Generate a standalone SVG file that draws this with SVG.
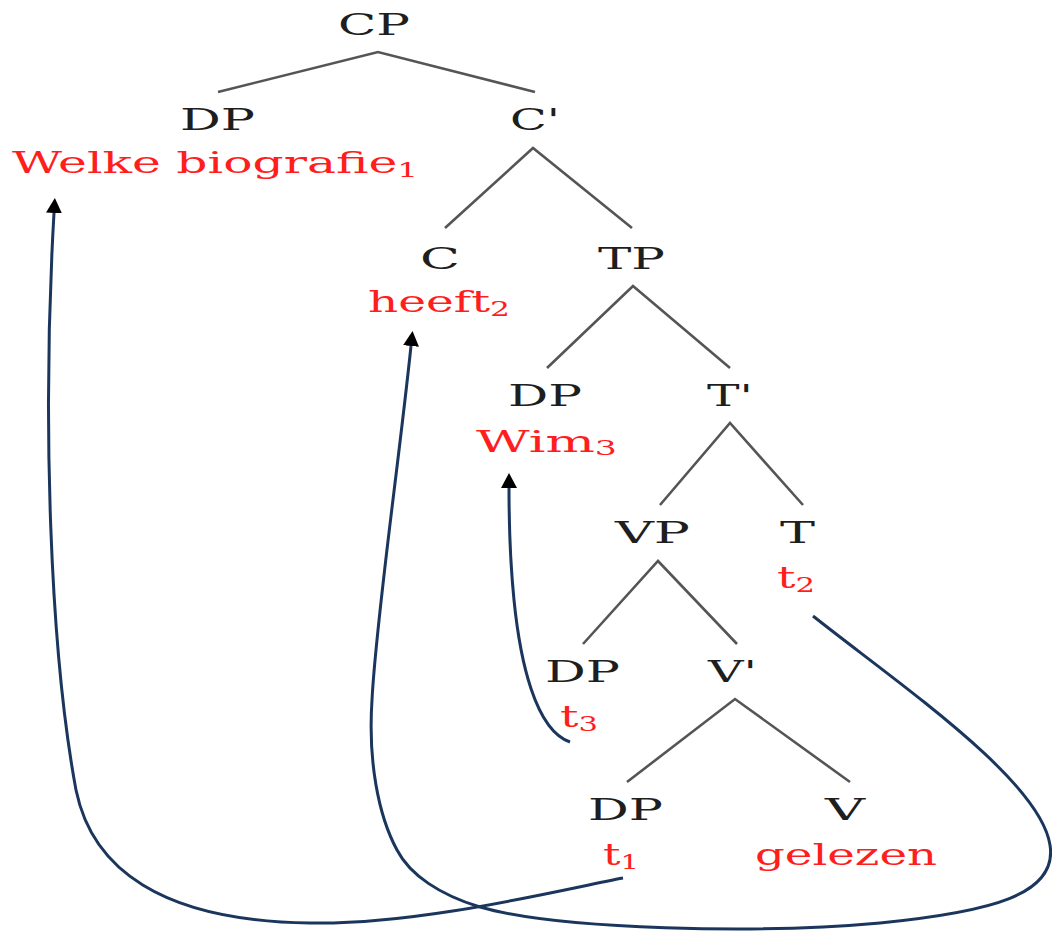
<svg xmlns="http://www.w3.org/2000/svg" width="1052" height="932" viewBox="0 0 1052 932">
  <style>
    .cat { font-family: "DejaVu Serif", "Liberation Serif", serif; font-size: 30px; fill: #1e1e1e; }
    .word { font-family: "DejaVu Serif", "Liberation Serif", serif; font-size: 30px; fill: #ff1e1e; }
    .sub { font-size: 20px; }
    .branch { stroke: #555555; stroke-width: 2.6; fill: none; stroke-linecap: butt; }
    .move { stroke: #1b365d; stroke-width: 3; fill: none; }
  </style>
  <defs>
    <marker id="head" markerUnits="userSpaceOnUse" markerWidth="16" markerHeight="16" refX="0" refY="8" orient="auto">
      <path d="M0,0 L15,8 L0,16 z" fill="#000"/>
    </marker>
  </defs>
  <rect width="1052" height="932" fill="#ffffff"/>

  <!-- tree branches -->
  <g id="branches">
    <polyline class="branch" points="218,92 378,52 535,92"/>
    <polyline class="branch" points="445,228 533,148 632,228"/>
    <polyline class="branch" points="547,368 633,286 730,368"/>
    <polyline class="branch" points="660,505 730,423 803,505"/>
    <polyline class="branch" points="583,644 658,561 737,644"/>
    <polyline class="branch" points="627,782 735,699 850,782"/>
  </g>

  <!-- nodes -->
  <g id="cp">
    <text class="cat" x="338" y="35" textLength="72" lengthAdjust="spacingAndGlyphs">CP</text>
  </g>
  <g id="dp-spec">
    <text class="cat" x="180" y="130" textLength="75" lengthAdjust="spacingAndGlyphs">DP</text>
    <text class="word" x="12" y="173" textLength="406" lengthAdjust="spacingAndGlyphs">Welke biografie<tspan class="sub" dy="4">1</tspan></text>
  </g>
  <g id="c-bar">
    <text class="cat" x="510" y="130" textLength="50" lengthAdjust="spacingAndGlyphs">C'</text>
  </g>
  <g id="c">
    <text class="cat" x="420" y="269" textLength="40" lengthAdjust="spacingAndGlyphs">C</text>
    <text class="word" x="368" y="312" textLength="142" lengthAdjust="spacingAndGlyphs">heeft<tspan class="sub" dy="4">2</tspan></text>
  </g>
  <g id="tp">
    <text class="cat" x="598" y="269" textLength="67" lengthAdjust="spacingAndGlyphs">TP</text>
  </g>
  <g id="dp-subj">
    <text class="cat" x="508" y="406" textLength="74" lengthAdjust="spacingAndGlyphs">DP</text>
    <text class="word" x="476" y="452" textLength="141" lengthAdjust="spacingAndGlyphs">Wim<tspan class="sub" dy="3">3</tspan></text>
  </g>
  <g id="t-bar">
    <text class="cat" x="707" y="406" textLength="46" lengthAdjust="spacingAndGlyphs">T'</text>
  </g>
  <g id="vp">
    <text class="cat" x="615" y="543" textLength="75" lengthAdjust="spacingAndGlyphs">VP</text>
  </g>
  <g id="t">
    <text class="cat" x="780" y="543" textLength="35" lengthAdjust="spacingAndGlyphs">T</text>
    <text class="word" x="777" y="588" textLength="38" lengthAdjust="spacingAndGlyphs">t<tspan class="sub" dy="4">2</tspan></text>
  </g>
  <g id="dp-trace3">
    <text class="cat" x="545" y="682" textLength="75" lengthAdjust="spacingAndGlyphs">DP</text>
    <text class="word" x="560" y="727" textLength="38" lengthAdjust="spacingAndGlyphs">t<tspan class="sub" dy="4">3</tspan></text>
  </g>
  <g id="v-bar">
    <text class="cat" x="708" y="682" textLength="49" lengthAdjust="spacingAndGlyphs">V'</text>
  </g>
  <g id="dp-obj">
    <text class="cat" x="588" y="820" textLength="75" lengthAdjust="spacingAndGlyphs">DP</text>
    <text class="word" x="603" y="865" textLength="36" lengthAdjust="spacingAndGlyphs">t<tspan class="sub" dy="4">1</tspan></text>
  </g>
  <g id="v">
    <text class="cat" x="825" y="820" textLength="40" lengthAdjust="spacingAndGlyphs">V</text>
    <text class="word" x="755" y="865" textLength="182" lengthAdjust="spacingAndGlyphs">gelezen</text>
  </g>

  <!-- movement arrows -->
  <g id="connectors">
    <path class="move" marker-end="url(#head)" d="M623,878 C560,890 420,925 310,923 C160,921 92,868 76,790 C50,650 42,420 54,213"/>
    <path class="move" marker-end="url(#head)" d="M813,616 C900,685 1040,780 1050,845 C1058,895 990,912 880,923 C760,934 560,930 480,907 C440,895 410,875 397,850 C378,815 368,760 372,700 C376,620 398,470 411,346"/>
    <path class="move" marker-end="url(#head)" d="M570,742 C535,730 520,660 514,600 C510,560 509,520 509,488"/>
  </g>
</svg>
